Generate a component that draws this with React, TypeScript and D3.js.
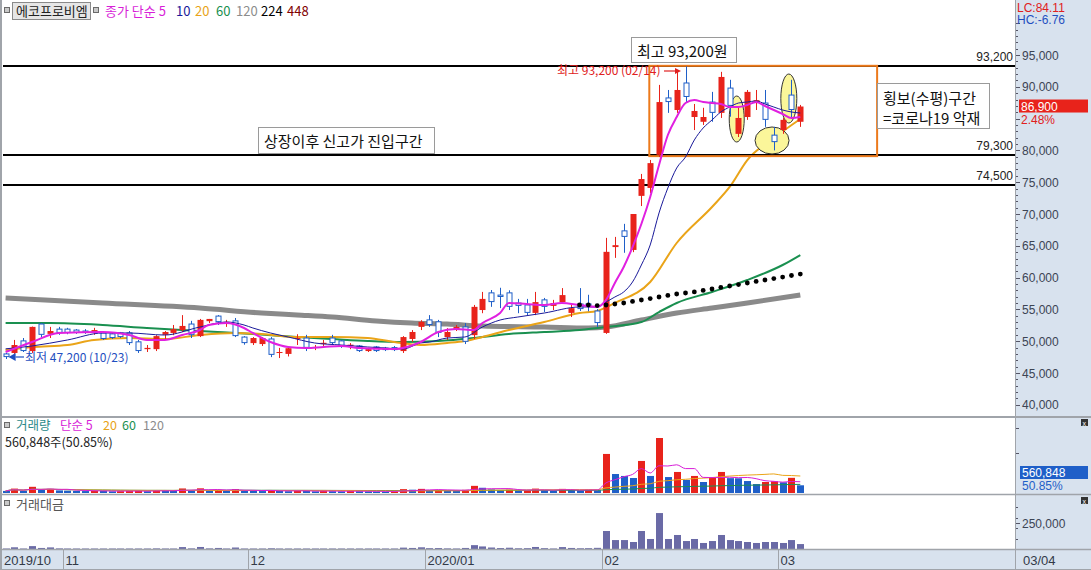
import React from "react";
import * as d3 from "d3";

// ---------- DATA ----------
const monthLabels = ["2019/10", "11", "12", "2020/01", "02", "03"];
const monthStart = [0, 7, 28, 48, 68, 88];
const lastDateLabel = "03/04";

const open = [48000,48150,50050,48450,52700,51150,51900,51900,51750,51600,51300,51300,51150,51300,51300,49900,48750,48750,51000,51300,51750,52700,50800,53150,53950,52900,53200,50650,49700,49550,50350,48150,48000,50350,50500,48950,49550,50500,50050,49250,49250,48450,49100,48900,49000,48450,50350,52250,53350,53050,50650,51900,52250,50950,54900,57600,57250,57600,56000,55700,54450,56500,55550,56150,54450,55850,55850,54750,51300,64800,67350,64350,72850,74100,79300,88250,86350,90600,85250,84500,87600,85900,89800,82600,85250,87450,87450,82400,83200,88700,84500];
const high = [48150,50200,50500,52300,52850,52250,52250,52100,51900,51900,52100,51600,51300,51450,51600,50200,49400,50950,51600,52550,54100,53200,53500,53500,54100,53350,53650,50800,50650,50650,50650,48950,48950,51100,51000,49400,50200,51000,50200,49700,49400,48950,49250,49100,49250,50800,51750,53300,54100,53350,52050,52550,52850,55700,57750,58050,58400,58000,56650,56650,57750,56800,56500,58350,55750,58350,57300,55050,66250,66400,68450,70000,76300,78500,90300,89500,92350,93200,87300,86700,89200,92350,91100,86800,89500,89500,89500,83700,85100,91100,87150];
const low = [47200,48000,48300,48150,50650,50500,51000,51100,51150,51150,51000,50200,50350,50500,49400,48150,48300,48450,50350,50950,51450,50500,50650,52850,52550,52250,50650,49450,49400,49250,47500,47350,47600,49400,48450,48600,49250,49550,48950,48750,48300,48300,48300,48450,48450,48150,49900,51750,52250,50650,50200,51600,49550,50350,54400,55400,55200,54900,54400,54100,54100,54600,54900,55850,53800,54750,54700,52250,51150,63100,63900,64000,71250,73300,78950,85900,85900,87600,83200,84000,84500,85100,85300,82100,84800,86350,83700,80000,82600,85100,83700];
const close = [47500,49400,48450,52250,51000,51600,51300,51300,51300,51300,51750,50350,50500,50650,49700,48450,48950,50800,51450,51900,52400,50950,53350,53500,53000,53050,50800,49700,50500,50500,47850,48300,48900,50500,48950,49100,49750,49700,49100,49450,48450,48750,48450,48600,48600,50650,51450,53050,52550,51300,51450,52250,49900,55400,56650,56150,56950,55400,55550,54450,56150,55400,56000,57250,55200,55050,55400,52850,64050,65100,66400,70000,75500,78000,87600,87600,89500,88400,86200,85250,85900,91550,87000,85100,89200,87900,84800,81300,84800,86350,86900];

// shares traded
const volume = [150000,320000,160000,450000,230000,300000,190000,170000,150000,140000,160000,150000,120000,130000,140000,160000,130000,190000,170000,160000,330000,180000,340000,180000,230000,170000,280000,160000,150000,140000,200000,150000,130000,160000,150000,120000,140000,130000,120000,140000,130000,120000,110000,100000,110000,280000,240000,300000,200000,220000,180000,170000,230000,520000,380000,260000,200000,240000,180000,190000,320000,200000,160000,300000,220000,180000,240000,200000,2840000,1380000,1240000,1090000,2330000,1240000,4000000,1160000,1530000,950000,1240000,800000,1090000,1530000,1080000,1070000,870000,650000,800000,850000,780000,1102950,560848];
// 거래대금 (백만원)
const tradeValue = [12000,25000,13000,36000,19000,24000,15000,14000,12000,11000,13000,12000,10000,10000,11000,12000,10000,15000,14000,13000,27000,15000,28000,15000,19000,14000,23000,13000,12000,11000,16000,12000,10000,13000,12000,9000,11000,10000,9000,11000,10000,9000,8500,8000,8500,22000,19000,25000,17000,18000,15000,14000,19000,45000,33000,23000,18000,21000,16000,17000,28000,17000,14000,27000,19000,16000,17000,20000,176000,92000,92000,74000,176000,102000,342000,102000,139000,83000,102000,65000,83000,139000,92000,83000,74000,65000,74000,74000,65000,92000,55000];

// moving averages: [candle index, price]
const ma5Pts = [[0,48300],[3,49870],[6,51290],[11,51450],[14,50970],[16,50190],[18,50190],[20,50970],[22,51760],[23,52550],[25,52860],[27,52080],[28,51290],[30,49870],[32,49090],[34,48930],[36,49090],[38,49250],[40,48930],[44,48770],[47,49870],[49,51450],[51,51920],[53,51760],[54,52860],[56,54430],[57,56010],[59,55850],[61,55690],[63,56010],[65,55690],[67,55380],[68,56500],[69,59150],[70,61670],[71,64810],[72,68430],[73,72670],[74,77700],[75,82420],[76,85250],[77,87450],[78,87920],[79,87610],[80,87450],[81,87300],[82,86820],[83,86820],[84,87140],[85,87610],[86,86980],[87,86350],[88,85720],[89,85090],[90,85250]];
const ma10Pts = [[0,48800],[3,49250],[7,50190],[11,51290],[14,51290],[18,50970],[22,52230],[25,53020],[27,52550],[28,52080],[30,51290],[32,50660],[35,49720],[38,49400],[41,49090],[43,48930],[45,48770],[47,49720],[48,49870],[50,50500],[52,50660],[54,52230],[56,53330],[58,53800],[61,54430],[65,55380],[67,55380],[68,56160],[69,56950],[70,57740],[71,59310],[72,61980],[73,65130],[74,70160],[75,74090],[76,77230],[77,78960],[78,81640],[79,83520],[80,84780],[81,86040],[82,86820],[83,87450],[84,87610],[85,87770],[86,87300],[87,86820],[88,86350],[89,86040],[90,85880]];
const ma20Pts = [[0,48620],[3,49090],[7,49400],[10,50190],[14,50500],[18,50340],[22,50970],[26,51290],[29,51130],[33,50660],[37,50660],[41,50500],[44,49870],[47,49400],[50,49720],[52,50030],[54,50660],[57,51760],[61,53020],[65,54430],[67,54750],[69,56010],[73,59310],[76,65440],[80,71100],[82,74250],[84,78490],[87,81950],[90,84940]];
const ma60Pts = [[0,52860],[5,52860],[11,52550],[16,52080],[20,51760],[24,51450],[28,51130],[33,50660],[37,50340],[41,50030],[45,49870],[49,50030],[53,50500],[57,51130],[61,51450],[65,51760],[68,52230],[72,53020],[74,54590],[76,56010],[80,57740],[84,59620],[88,61980],[90,63550]];
const ma120Pts = [[0,56790],[11,56010],[22,55220],[29,54430],[33,54120],[37,53800],[42,53180],[46,52860],[50,52700],[54,52390],[61,52230],[66,52080],[68,52230],[72,53330],[76,54430],[80,55220],[84,56010],[90,57260]];
const ma224Start = 65;
const ma224 = [55690,55690,55600,55690,55850,56010,56250,56480,56700,56950,57200,57420,57580,57740,57980,58210,58450,58680,58900,59150,59400,59620,59850,60090,60330,60560];

const priceTicks = d3.range(40000, 95001, 5000);
const levelLines = [93200, 79300, 74500];
const legendItems = [
  { t: "종가 단순 5", c: "#d81ed8", x: 105 },
  { t: "10", c: "#1a1a9a", x: 176 },
  { t: "20", c: "#e8a317", x: 195 },
  { t: "60", c: "#1a9050", x: 216 },
  { t: "120", c: "#8c8c8c", x: 236 },
  { t: "224", c: "#000000", x: 261 },
  { t: "448", c: "#800000", x: 287 },
];
const volLegend = [
  { t: "거래량", c: "#2a8a8a", x: 16 },
  { t: "단순 5", c: "#d81ed8", x: 60 },
  { t: "20", c: "#e8a317", x: 103 },
  { t: "60", c: "#1a9050", x: 122 },
  { t: "120", c: "#8c8c8c", x: 143 },
];
// annotation ellipses: centre index, price range, horizontal radius
const ellipses = [
  { i: 82.8, lo: 81320, hi: 88550, rx: 7.5 },
  { i: 86.8, lo: 79430, hi: 83680, rx: 17 },
  { i: 88.7, lo: 84310, hi: 92010, rx: 8 },
];
const boxRange = { i0: 72.9, i1: 98.7, top: 93300, bottom: 79100 };

// ---------- STYLE ----------
const RED = "#e8231b";
const BLUE = "#1f5fc8";
const AXIS_BG = "#d8e2ee";
const BORDER = "#a0a4aa";
const KR = "'Noto Sans CJK KR', 'Noto Sans', sans-serif";
const NUM = "'Liberation Sans', 'DejaVu Sans', sans-serif";

function movingAvg(arr: number[], n: number) {
  return arr.map((_, i) => d3.mean(arr.slice(Math.max(0, i - n + 1), i + 1)) as number);
}

export default function App() {
  const N = close.length;
  const x = d3.scaleLinear().domain([0, N - 1]).range([5.6, 800.3]);
  const y = d3.scaleLinear().domain([40000, 95000]).range([404.8, 55]);
  const yV = d3.scaleLinear().domain([0, 5600000]).range([493, 416]);
  const yT = d3.scaleLinear().domain([0, 250000]).range([550, 523]);
  const half = (x(1) - x(0)) / 2;

  const priceLine = d3.line<number[]>().x((d) => x(d[0])).y((d) => y(d[1])).curve(d3.curveMonotoneX);
  const volLine = d3.line<number>().x((_, i) => x(i)).y((d) => yV(d)).curve(d3.curveMonotoneX);
  const fmt = d3.format(",");

  const vma5 = movingAvg(volume, 5);
  const vma20 = movingAvg(volume, 20);
  const vma60 = movingAvg(volume, 60);

  const minorTicks = d3.range(40000, 100001, 1000);
  const lastY = y(close[N - 1]);

  const candle = (i: number) => {
    const cx = Math.round(x(i));
    const up = close[i] >= open[i];
    const col = up ? RED : BLUE;
    const top = y(Math.max(open[i], close[i]));
    const bot = y(Math.min(open[i], close[i]));
    const h = Math.max(1, bot - top);
    return (
      <g key={i}>
        <line x1={cx + 0.5} x2={cx + 0.5} y1={y(high[i])} y2={y(low[i])} stroke={col} strokeWidth={1} />
        {up ? (
          <rect x={cx - 2.5} y={top} width={6} height={h} fill={col} />
        ) : (
          <rect x={cx - 2} y={top} width={5} height={Math.max(1, h - 0.5)} fill="#fff" stroke={col} strokeWidth={1} />
        )}
      </g>
    );
  };

  const ma224Pts = ma224.map((v, k) => [ma224Start + k, v]);

  return (
    <div style={{ position: "fixed", left: 0, top: 0, width: 1091, height: 570 }}>
      <svg width={1091} height={570} style={{ display: "block" }}>
        <defs>
          <clipPath id="pclip"><rect x={3} y={0} width={1012} height={416} /></clipPath>
          <clipPath id="vclip"><rect x={3} y={418} width={1012} height={75} /></clipPath>
        </defs>
        <rect x={0} y={0} width={1091} height={570} fill="#fff" />
        {/* axis backgrounds */}
        <rect x={1015} y={0} width={76} height={570} fill={AXIS_BG} />
        <rect x={0} y={549} width={1091} height={21} fill={AXIS_BG} />

        {/* ---------- PRICE PANEL ---------- */}
        <g clipPath="url(#pclip)">
          <path d={priceLine(ma120Pts as any) || ""} fill="none" stroke="#8a8a8a" strokeWidth={5} />
          <path d={priceLine(ma60Pts as any) || ""} fill="none" stroke="#1a9050" strokeWidth={2} />
          <path d={priceLine(ma20Pts as any) || ""} fill="none" stroke="#eaa418" strokeWidth={2} />
          {levelLines.map((lv) => (
            <line key={lv} x1={3} x2={1015} y1={Math.round(y(lv))} y2={Math.round(y(lv))} stroke="#000" strokeWidth={2} />
          ))}
          <rect
            x={x(boxRange.i0)}
            y={y(boxRange.top)}
            width={x(boxRange.i1) - x(boxRange.i0)}
            height={y(boxRange.bottom) - y(boxRange.top)}
            fill="none"
            stroke="#ec7a1c"
            strokeWidth={2}
          />
          {ellipses.map((e, k) => (
            <ellipse
              key={k}
              cx={x(e.i)}
              cy={(y(e.lo) + y(e.hi)) / 2}
              rx={e.rx}
              ry={(y(e.lo) - y(e.hi)) / 2}
              fill="#fbf69a"
              stroke="#333"
              strokeWidth={1}
            />
          ))}
          {close.map((_, i) => candle(i))}
          <path d={priceLine(ma10Pts as any) || ""} fill="none" stroke="#1a1a9a" strokeWidth={1} />
          <path d={priceLine(ma5Pts as any) || ""} fill="none" stroke="#e020e0" strokeWidth={2} />
          {ma224Pts.map((d, k) => (
            <circle key={k} cx={x(d[0])} cy={y(d[1])} r={2.4} fill="#000" />
          ))}
        </g>

        {/* level labels */}
        {levelLines.map((lv) => (
          <text key={lv} x={1013} y={y(lv) - 5} fontFamily={NUM} fontSize={12} textAnchor="end" fill="#222">
            {fmt(lv)}
          </text>
        ))}

        {/* annotations */}
        <rect x={631.5} y={37.5} width={105} height={25} fill="#fff" stroke="#9a9a9a" />
        <text x={637} y={57} fontFamily={KR} fontSize={15} fill="#111">최고 93,200원</text>
        <rect x={258.5} y={127.5} width={176} height={26} fill="#fff" stroke="#9a9a9a" />
        <text x={264} y={147} fontFamily={KR} fontSize={15} fill="#111">상장이후 신고가 진입구간</text>
        <rect x={877.5} y={83.5} width={112} height={45} fill="#fff" stroke="#9a9a9a" />
        <text x={883} y={104} fontFamily={KR} fontSize={15} fill="#111">횡보(수평)구간</text>
        <text x={883} y={124} fontFamily={KR} fontSize={15} fill="#111">=코로나19 악재</text>

        <text x={557} y={75} fontFamily={KR} fontSize={12} fill="#e02020">최고 93,200 (02/14)</text>
        <line x1={664} x2={678} y1={71} y2={71} stroke="#e02020" strokeWidth={1.2} />
        <path d="M681,71 L675,68 L675,74 Z" fill="#e02020" />

        <path d={`M${x(0) + 3},357 L${x(0) + 10},353 L${x(0) + 10},361 Z`} fill="#1f4fc0" />
        <line x1={x(0) + 10} x2={24} y1={357} y2={357} stroke="#1f4fc0" strokeWidth={1.2} />
        <text x={25} y={362} fontFamily={KR} fontSize={12} fill="#1f4fc0">최저 47,200 (10/23)</text>

        {/* legend */}
        <rect x={4.5} y={7.5} width={5} height={5} fill="#c8c8c8" stroke="#6a6a6a" />
        <rect x={12.5} y={2.5} width={78} height={17} fill="#e6e6e6" stroke="#8a8a8a" />
        <text x={16} y={16} fontFamily={KR} fontSize={13} fill="#222">에코프로비엠</text>
        <rect x={93.5} y={7.5} width={5} height={5} fill="#c8c8c8" stroke="#6a6a6a" />
        {legendItems.map((l) => (
          <text key={l.t} x={l.x} y={16} fontFamily={KR} fontSize={13} fill={l.c}>{l.t}</text>
        ))}

        {/* price axis */}
        {minorTicks.map((t) => (
          <line key={t} x1={1015} x2={t % 5000 === 0 ? 1020 : 1018} y1={Math.round(y(t)) + 0.5} y2={Math.round(y(t)) + 0.5} stroke="#556" strokeWidth={1} />
        ))}
        {priceTicks
          .filter((t) => Math.abs(y(t) - lastY) > 16)
          .map((t) => (
            <text key={t} x={1022} y={y(t) + 4.5} fontFamily={NUM} fontSize={12} fill="#3c4454">{fmt(t)}</text>
          ))}
        <text x={1017} y={12} fontFamily={NUM} fontSize={12} fill="#e02020">LC:84.11</text>
        <text x={1017} y={24} fontFamily={NUM} fontSize={12} fill="#1f4fc0">HC:-6.76</text>
        <rect x={1019} y={lastY - 7} width={69} height={13} fill="#e8231b" />
        <text x={1021} y={lastY + 4} fontFamily={NUM} fontSize={12} fill="#fff">86,900</text>
        <text x={1021} y={lastY + 17} fontFamily={NUM} fontSize={12} fill="#e02020">2.48%</text>

        {/* ---------- VOLUME PANEL ---------- */}
        <g clipPath="url(#vclip)">
          {volume.map((v, i) => {
            const upv = i > 0 && v > volume[i - 1];
            return (
              <rect key={i} x={Math.round(x(i)) - 3} y={yV(v)} width={7} height={Math.max(1.5, yV(0) - yV(v))} fill={upv ? RED : BLUE} />
            );
          })}
          <path d={volLine(vma60) || ""} fill="none" stroke="#1a9050" strokeWidth={1} />
          <path d={volLine(vma20) || ""} fill="none" stroke="#eaa418" strokeWidth={1} />
          <path d={volLine(vma5) || ""} fill="none" stroke="#d81ed8" strokeWidth={1} />
        </g>
        <rect x={4.5} y={422.5} width={5} height={5} fill="#c8c8c8" stroke="#6a6a6a" />
        {volLegend.map((l) => (
          <text key={l.t} x={l.x} y={430} fontFamily={KR} fontSize={12.5} fill={l.c}>{l.t}</text>
        ))}
        <text x={5} y={447} fontFamily={KR} fontSize={12.5} fill="#222">560,848주(50.85%)</text>
        {[2900000, 4700000].map((t) => (
          <line key={t} x1={1015} x2={1019} y1={Math.round(yV(t)) + 0.5} y2={Math.round(yV(t)) + 0.5} stroke="#556" />
        ))}
        <rect x={1020} y={466} width={68} height={13} fill="#1f5fc8" />
        <text x={1022} y={477} fontFamily={NUM} fontSize={12} fill="#fff">560,848</text>
        <text x={1022} y={490} fontFamily={NUM} fontSize={12} fill="#1f5fc8">50.85%</text>
        <rect x={1081} y={419} width={7} height={7} fill="#333" />
        <text x={1082.5} y={425.5} fontFamily={NUM} fontSize={7} fill="#fff">x</text>

        {/* ---------- TRADE VALUE PANEL ---------- */}
        {tradeValue.map((v, i) => (
          <rect key={i} x={Math.round(x(i)) - 3} y={Math.min(yT(v), 548.5)} width={7} height={Math.max(1.5, yT(0) - yT(v))} fill="#6a6aa6" />
        ))}
        <rect x={4.5} y={500.5} width={5} height={5} fill="#c8c8c8" stroke="#6a6a6a" />
        <text x={16} y={509} fontFamily={KR} fontSize={13} fill="#555">거래대금</text>
        {[100000, 200000, 250000, 300000, 400000].map((t) => (
          <line key={t} x1={1015} x2={t === 250000 ? 1020 : 1018} y1={Math.round(yT(t)) + 0.5} y2={Math.round(yT(t)) + 0.5} stroke="#556" />
        ))}
        <text x={1022} y={527.5} fontFamily={NUM} fontSize={12} fill="#3c4454">250,000</text>
        <rect x={1081} y={497} width={7} height={7} fill="#333" />
        <text x={1082.5} y={503.5} fontFamily={NUM} fontSize={7} fill="#fff">x</text>

        {/* panel borders */}
        <line x1={0} x2={1091} y1={417} y2={417} stroke={BORDER} strokeWidth={2} />
        <line x1={0} x2={1091} y1={494.5} y2={494.5} stroke={BORDER} strokeWidth={1.5} />
        <line x1={0} x2={1091} y1={549.5} y2={549.5} stroke={BORDER} strokeWidth={1.5} />
        <line x1={1015.5} x2={1015.5} y1={0} y2={570} stroke={BORDER} strokeWidth={1} />
        <line x1={1} x2={1} y1={0} y2={570} stroke={BORDER} strokeWidth={2} />
        <line x1={0} x2={1091} y1={569.5} y2={569.5} stroke={BORDER} strokeWidth={1} />

        {/* date axis */}
        {monthStart.map((s, k) => {
          const sx = k === 0 ? 2 : Math.round(x(s) - half) + 0.5;
          return (
            <g key={k}>
              {k > 0 && <line x1={sx} x2={sx} y1={550} y2={570} stroke={BORDER} />}
              <text x={sx + 2} y={565} fontFamily={NUM} fontSize={13} fill="#333a48">{monthLabels[k]}</text>
            </g>
          );
        })}
        <text x={1023} y={565} fontFamily={NUM} fontSize={13} fill="#333a48">{lastDateLabel}</text>
      </svg>
    </div>
  );
}
